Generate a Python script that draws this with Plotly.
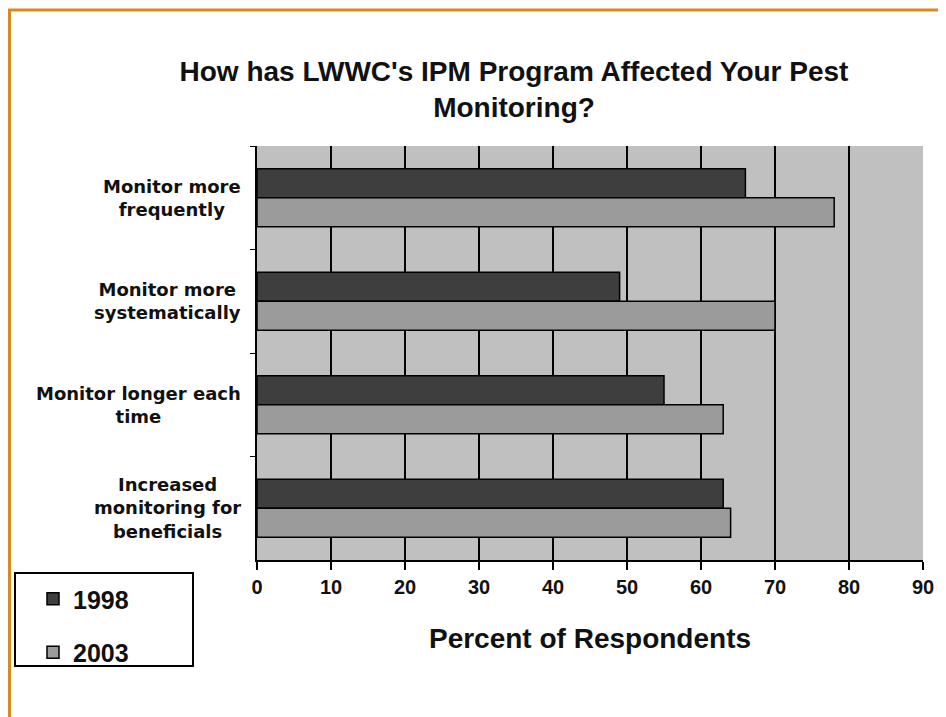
import plotly.graph_objects as go

categories = ["Monitor more<br>frequently", "Monitor more<br>systematically",
              "Monitor longer each<br>time", "Increased<br>monitoring for<br>beneficials"]
cat_keys = ["freq", "syst", "longer", "benef"]
series_names = ["1998", "2003"]
values_1998 = [66, 49, 55, 63]
values_2003 = [78, 70, 63, 64]
x_ticks = [0, 10, 20, 30, 40, 50, 60, 70, 80, 90]

NARROW = "Liberation Sans Narrow, Arial Narrow, Liberation Sans, Arial, sans-serif"
WIDE = "DejaVu Sans, Verdana, Arial, sans-serif"

OFF = 8  # page body margin
W, H = 946 - OFF, 717 - OFF
PL, PR, PT, PB = 257, 923, 146, 560  # plot area in page pixels
L, T = PL - OFF, PT - OFF
R, B = W - (PR - OFF), H - (PB - OFF)
pw, ph = PR - PL, PB - PT

def px(x):
    return (x - PL) / pw

def py(y):
    return (PB - y) / ph

fig = go.Figure()
fig.add_trace(go.Bar(y=cat_keys, x=values_1998, name=series_names[0], orientation="h",
                     marker=dict(color="#3e3e3e", line=dict(color="#000000", width=1.5)),
                     legendgroup="a"))
fig.add_trace(go.Bar(y=cat_keys, x=values_2003, name=series_names[1], orientation="h",
                     marker=dict(color="#9b9b9b", line=dict(color="#000000", width=1.5)),
                     legendgroup="b"))

for key, label in zip(cat_keys, categories):
    fig.add_annotation(x=px(243), xref="paper", y=key, yref="y", text=label,
                       xanchor="right", align="center", showarrow=False,
                       font=dict(family=WIDE, size=18, color="#111111", weight="bold"))

shapes = [
    dict(type="line", xref="paper", yref="paper", x0=px(8), x1=px(950), y0=py(10), y1=py(10),
         line=dict(color="#d98a1e", width=3)),
    dict(type="line", xref="paper", yref="paper", x0=px(9.5), x1=px(9.5), y0=py(10), y1=py(720),
         line=dict(color="#d98a1e", width=3)),
    dict(type="rect", xref="paper", yref="paper", x0=px(15), x1=px(193), y0=py(666), y1=py(573),
         line=dict(color="#000000", width=2), fillcolor="white", layer="below"),
]

fig.update_layout(
    width=W, height=H,
    margin=dict(l=L, r=R, t=T, b=B),
    paper_bgcolor="white",
    plot_bgcolor="#c0c0c0",
    barmode="group",
    bargap=0.44,
    bargroupgap=0,
    shapes=shapes,
    title=dict(text="How has LWWC's IPM Program Affected Your Pest<br>Monitoring?",
               x=(514 - OFF) / W, xanchor="center", xref="container",
               y=1 - 73 / H, yanchor="top", yref="container",
               font=dict(family=NARROW, size=28, color="#111111", weight="bold")),
    legend=dict(x=px(33), y=py(576), xanchor="left", yanchor="top",
                bgcolor="rgba(0,0,0,0)", borderwidth=0,
                traceorder="grouped", tracegroupgap=18,
                font=dict(family=NARROW, size=25, color="#111111", weight="bold")),
    xaxis=dict(range=[0, 90], tickvals=x_ticks, ticktext=[str(v) for v in x_ticks],
               showgrid=True, gridcolor="#000000", gridwidth=1.5,
               showline=True, linecolor="#000000", linewidth=2,
               ticks="outside", ticklen=8, tickcolor="#000000", tickwidth=1.5,
               tickfont=dict(family=NARROW, size=20, color="#111111", weight="bold"),
               title=dict(text="Percent of Respondents", standoff=31,
                          font=dict(family=NARROW, size=28, color="#111111", weight="bold")),
               zeroline=False, fixedrange=True),
    yaxis=dict(categoryorder="array", categoryarray=cat_keys, autorange="reversed",
               showticklabels=False, showgrid=False,
               showline=True, linecolor="#000000", linewidth=2,
               ticks="outside", tickson="boundaries", ticklen=5, tickcolor="#000000",
               fixedrange=True),
)

fig.write_html("out.html")
